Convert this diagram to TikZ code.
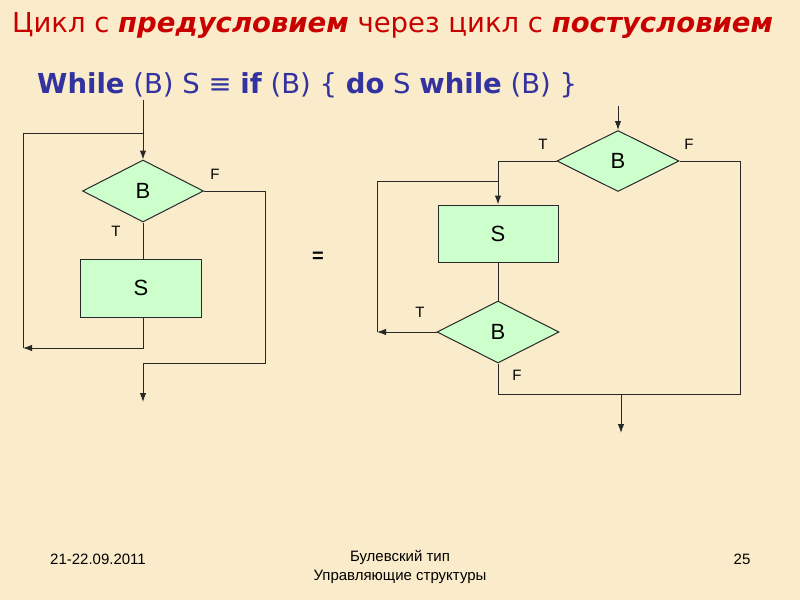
\documentclass[tikz,border=0pt]{standalone}
\usepackage{fontspec}
\setmainfont{Liberation Sans}
\newfontfamily\titlefont{DejaVu Sans}
\usetikzlibrary{shapes.geometric,arrows.meta}
\definecolor{bgc}{RGB}{250,236,202}
\definecolor{titred}{RGB}{200,0,0}
\definecolor{subblue}{RGB}{50,50,160}
\definecolor{greenfill}{RGB}{204,255,204}
\definecolor{linec}{RGB}{40,40,40}
\tikzset{
  dia/.style={diamond,draw=linec,fill=greenfill,line width=1pt,inner sep=0pt,
     minimum width=121pt,minimum height=62pt,font=\fontsize{22}{24}\selectfont},
  stmt/.style={rectangle,draw=linec,fill=greenfill,line width=1pt,inner sep=0pt,
     minimum width=121pt,minimum height=58pt,font=\fontsize{22}{24}\selectfont},
  conn/.style={draw=linec,line width=1pt},
  arr/.style={conn,-{Latex[length=9pt,width=6.5pt]}},
  lbl/.style={font=\fontsize{15}{17}\selectfont,inner sep=0pt},
  foot/.style={font=\fontsize{15}{19}\selectfont,inner sep=0pt}
}
\begin{document}
\begin{tikzpicture}[x=1pt,y=-1pt]
\fill[bgc] (0,0) rectangle (800,600);
\useasboundingbox (0,0) rectangle (800,600);
% title
\node[anchor=base west,inner sep=0pt,text=titred,font=\titlefont\fontsize{27.5}{30}\selectfont] (title) at (12,32)
 {Цикл с {\bfseries\itshape предусловием} через цикл с {\bfseries\itshape постусловием}};
\node[anchor=base west,inner sep=0pt,text=subblue,font=\titlefont\fontsize{27.5}{30}\selectfont] (sub) at (37,93)
 {{\bfseries While} (B) S ≡ {\bfseries if} (B) \{ {\bfseries do} S {\bfseries while} (B) \}};
% left diagram
\node[dia] (b1) at (143,191) {B};
\node[stmt] (s1) at (141,288) {S};
\coordinate (e1) at (143,100);
\coordinate (l2) at (143,133);
\coordinate (l3) at (23,348);
\coordinate (e2) at (143,402);
\draw[arr] (e1) -- (b1.north);
\draw[conn] (b1.south) -- (b1.south |- s1.north);
\draw[arr] (b1.south |- s1.south) |- (l3);
\draw[conn] (l3) |- (l2);
\draw[arr] (b1.east) -- (265,191) |- (143,363) -- (e2);
\node[lbl] (f1) at (215,174) {F};
\node[lbl] (t1) at (116,231) {T};
% equals
\node[font=\fontsize{20}{22}\selectfont\bfseries,inner sep=0pt] (eq) at (318,257) {=};
% right diagram
\node[dia,minimum width=122pt,minimum height=61pt] (b2) at (618,161) {B};
\node[stmt,minimum width=120pt,minimum height=57pt] (s2) at (498,233.5) {S};
\node[dia,minimum width=122pt,minimum height=62pt] (b3) at (498,332) {B};
\coordinate (e3) at (618,106);
\coordinate (r1) at (377,332);
\coordinate (r2) at (498,181);
\coordinate (r3) at (498,394);
\coordinate (r4) at (740,161);
\coordinate (x1) at (621,394);
\coordinate (x2) at (621,433);
\draw[arr] (e3) -- (b2.north);
\draw[arr] (b2.west) -| (s2.north);
\draw[conn] (s2.south) -- (b3.north);
\draw[arr] (b3.west) -- (r1);
\draw[conn] (r1) |- (r2);
\draw[conn] (b3.south) -- (r3) -| (r4) -- (b2.east);
\draw[arr] (x1) -- (x2);
\node[lbl] (t2) at (543,144) {T};
\node[lbl] (f2) at (689,144) {F};
\node[lbl] (t3) at (420,312) {T};
\node[lbl] (f3) at (517,375) {F};
% footer
\node[foot] (date) at (98,559) {21-22.09.2011};
\node[foot,align=center] (mid) at (400,567) {Булевский тип\\Управляющие структуры};
\node[foot] (pg) at (742,559) {25};
\end{tikzpicture}
\end{document}
